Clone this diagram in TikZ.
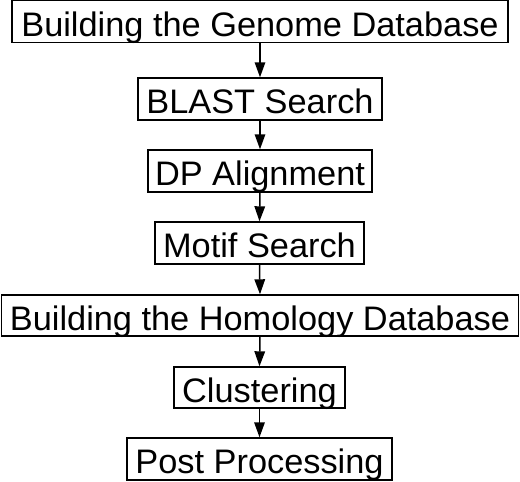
\documentclass[tikz,border=0pt]{standalone}
\usepackage{fontspec}
\setmainfont{Liberation Sans}[FakeStretch=1.01]
\usetikzlibrary{arrows.meta}
\begin{document}
\begin{tikzpicture}[x=1pt,y=-1pt,
  stepbox/.style={draw=black, line width=1.4pt, rectangle, inner sep=0pt,
    minimum height=42pt, text height=29pt, text depth=0pt,
    font=\fontsize{34}{37}\selectfont},
  flow/.style={line width=1.5pt, -{Triangle[length=15pt,width=10.5pt]}}]
\useasboundingbox (0,0) rectangle (520,482);
\node[stepbox, minimum width=496pt] (b1) at (260,21.5) {Building the Genome Database};
\node[stepbox, minimum width=244pt] (b2) at (260,99) {BLAST Search};
\node[stepbox, minimum width=224pt] (b3) at (260,171) {DP Alignment};
\node[stepbox, minimum width=209pt] (b4) at (259.5,243) {Motif Search};
\node[stepbox, minimum width=517pt, minimum height=41pt] (b5) at (260,315.5) {Building the Homology Database};
\node[stepbox, minimum width=171pt, minimum height=41pt] (b6) at (259.5,387.5) {Clustering};
\node[stepbox, minimum width=265pt] (b7) at (259.5,459) {Post Processing};
\draw[flow] (b1.south) -- (b2.north);
\draw[flow] (b2.south) -- (b3.north);
\draw[flow] (b3.south) -- (b4.north);
\draw[flow] (b4.south) -- (b5.north);
\draw[flow] (b5.south) -- (b6.north);
\draw[flow] (b6.south) -- (b7.north);
\end{tikzpicture}
\end{document}
